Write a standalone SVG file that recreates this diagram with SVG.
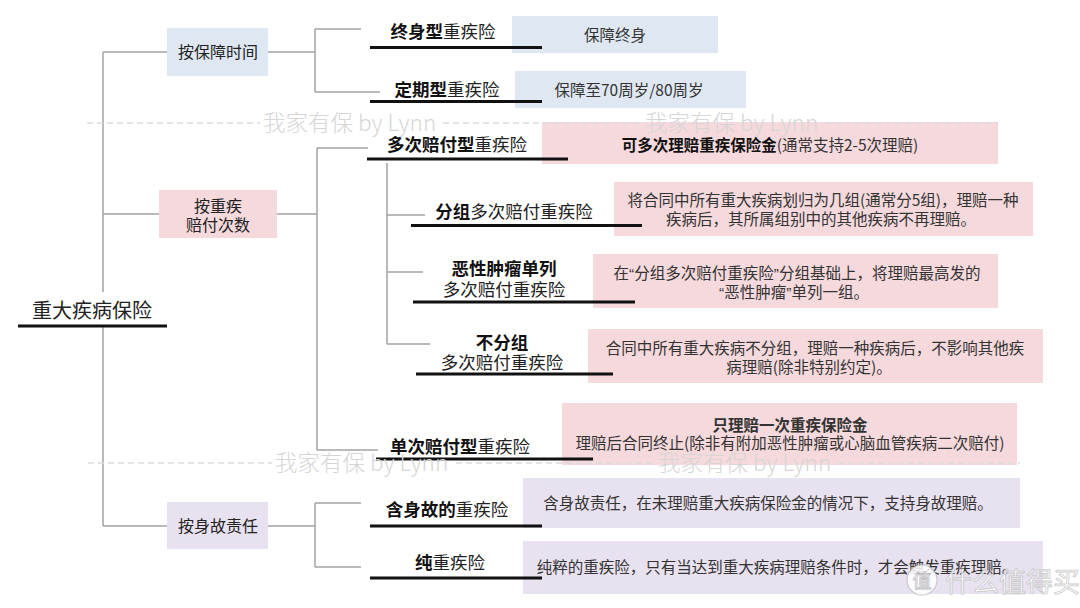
<svg xmlns="http://www.w3.org/2000/svg" width="1080" height="608" viewBox="0 0 1080 608">
<defs>
<style>
text{font-family:"Noto Sans CJK SC","Noto Sans",sans-serif;fill:#222;}
.root{font-size:20px;}
.l1{font-size:16px;text-anchor:middle;}
.l2{font-size:17.5px;text-anchor:middle;}
.b{font-weight:700;fill:#111;}
.d{font-size:15.5px;text-anchor:middle;fill:#333;}
.q{font-family:"Liberation Sans",sans-serif;}
.conn{fill:none;stroke:#a3a3a3;stroke-width:1.5;}
.ul{stroke:#111;stroke-width:3;}
.blue{fill:#dfe8f2;}
.pink{fill:#f5d9dc;}
.lav{fill:#e8e1ef;}
.wm{font-size:22.5px;fill:#d6d6d6;font-weight:300;}
.wml{stroke:#dcdcdc;stroke-width:1.3;stroke-dasharray:6 4;fill:none;}
</style>
</defs>
<rect width="1080" height="608" fill="#fff"/>

<g id="connectors" class="conn">
<path d="M103 52V292M103 326V526"/>
<path d="M103 52H167M103 214H159M103 526H167"/>
<path d="M268 52H315M315 29V92M315 29H361M315 92H380"/>
<path d="M277 214H317M317 148V450M317 148H368M317 450H378"/>
<path d="M387 163V344M387 215H425M387 272H423M387 344H430"/>
<path d="M268 526H315M315 503V567M315 503H361M315 567H361"/>
</g>

<g id="root">
<text class="root" x="32" y="318">重大疾病保险</text>
<line class="ul" x1="18" y1="326" x2="167" y2="326"/>
</g>

<g id="by-time">
<rect class="blue" x="167" y="28" width="101" height="48"/>
<text class="l1" x="218" y="58">按保障时间</text>
</g>
<g id="by-claims">
<rect class="pink" x="159" y="190" width="118" height="48"/>
<text class="l1" x="218" y="212">按重疾</text>
<text class="l1" x="218" y="231">赔付次数</text>
</g>
<g id="by-death">
<rect class="lav" x="167" y="502" width="101" height="47"/>
<text class="l1" x="218" y="532">按身故责任</text>
</g>

<g id="lifetime">
<rect class="blue" x="512" y="16" width="206" height="37"/>
<line class="ul" x1="370" y1="47.5" x2="542" y2="47.5"/>
<text class="l2" x="443" y="38"><tspan class="b">终身型</tspan>重疾险</text>
<text class="d" x="615" y="40.6">保障终身</text>
</g>
<g id="term">
<rect class="blue" x="515" y="71" width="231" height="37"/>
<line class="ul" x1="370" y1="101.5" x2="542" y2="101.5"/>
<text class="l2" x="447" y="96"><tspan class="b">定期型</tspan>重疾险</text>
<text class="d" x="629" y="95.6">保障至70周岁/80周岁</text>
</g>
<g id="multi">
<rect class="pink" x="542" y="122" width="456" height="42"/>
<line class="ul" x1="367" y1="159" x2="568" y2="159"/>
<text class="l2" x="457" y="151"><tspan class="b">多次赔付型</tspan>重疾险</text>
<text class="d" x="770" y="150.6"><tspan class="b">可多次理赔重疾保险金</tspan>(通常支持2-5次理赔)</text>
</g>
<g id="grouped">
<rect class="pink" x="614" y="182" width="419" height="54"/>
<line class="ul" x1="411" y1="225.5" x2="642" y2="225.5"/>
<text class="l2" x="514" y="218"><tspan class="b">分组</tspan>多次赔付重疾险</text>
<text class="d" x="823" y="205.6">将合同中所有重大疾病划归为几组(通常分5组)，理赔一种</text>
<text class="d" x="821" y="224.6">疾病后，其所属组别中的其他疾病不再理赔。</text>
</g>
<g id="cancer-separate">
<rect class="pink" x="593" y="254" width="405" height="54"/>
<line class="ul" x1="413" y1="302" x2="635" y2="302"/>
<text class="l2 b" x="504" y="275">恶性肿瘤单列</text>
<text class="l2" x="504" y="296">多次赔付重疾险</text>
<text class="d" x="797" y="278.6">在<tspan class="q">“</tspan>分组多次赔付重疾险<tspan class="q">”</tspan>分组基础上，将理赔最高发的</text>
<text class="d" x="794" y="297.6"><tspan class="q">“</tspan>恶性肿瘤<tspan class="q">”</tspan>单列一组。</text>
</g>
<g id="ungrouped">
<rect class="pink" x="588" y="329" width="455" height="54"/>
<line class="ul" x1="416" y1="374" x2="613" y2="374"/>
<text class="l2 b" x="502" y="349">不分组</text>
<text class="l2" x="502" y="369">多次赔付重疾险</text>
<text class="d" x="815" y="353.6">合同中所有重大疾病不分组，理赔一种疾病后，不影响其他疾</text>
<text class="d" x="809" y="372.6">病理赔(除非特别约定)。</text>
</g>
<g id="single">
<rect class="pink" x="562" y="403" width="455" height="62"/>
<line class="ul" x1="376" y1="459" x2="593" y2="459"/>
<text class="l2" x="460" y="453"><tspan class="b">单次赔付型</tspan>重疾险</text>
<text class="d b" x="790" y="430.6">只理赔一次重疾保险金</text>
<text class="d" x="790" y="448.6">理赔后合同终止(除非有附加恶性肿瘤或心脑血管疾病二次赔付)</text>
</g>
<g id="with-death">
<rect class="lav" x="523" y="478" width="497" height="50"/>
<line class="ul" x1="370" y1="526" x2="542" y2="526"/>
<text class="l2" x="447" y="516"><tspan class="b">含身故的</tspan>重疾险</text>
<text class="d" x="768" y="508.6">含身故责任，在未理赔重大疾病保险金的情况下，支持身故理赔。</text>
</g>
<g id="pure">
<rect class="lav" x="523" y="541" width="520" height="53"/>
<line class="ul" x1="370" y1="578" x2="542" y2="578"/>
<text class="l2" x="450" y="569"><tspan class="b">纯</tspan>重疾险</text>
<text class="d" x="777" y="572.6">纯粹的重疾险，只有当达到重大疾病理赔条件时，才会触发重疾理赔。</text>
</g>

<g id="watermarks">
<path class="wml" d="M87 123H260M443 123H642M825 123H998"/>
<text class="wm" x="263" y="131">我家有保  by Lynn</text>
<text class="wm" x="645" y="131">我家有保  by Lynn</text>
<path class="wml" d="M88 463H272M456 463H655M838 463H1020"/>
<text class="wm" x="275" y="471">我家有保  by Lynn</text>
<text class="wm" x="658" y="471">我家有保  by Lynn</text>
<g opacity="0.85">
<circle cx="922" cy="580" r="15" fill="#fff" stroke="#c4c4c4" stroke-width="1.2"/>
<text x="922" y="588" font-size="19" text-anchor="middle" style="fill:#fff;stroke:#bdbdbd;stroke-width:0.8">值</text>
<text x="945" y="592" font-size="27" style="fill:#fff;stroke:#c4c4c4;stroke-width:0.8">什么值得买</text>
</g>
</g>
</svg>
